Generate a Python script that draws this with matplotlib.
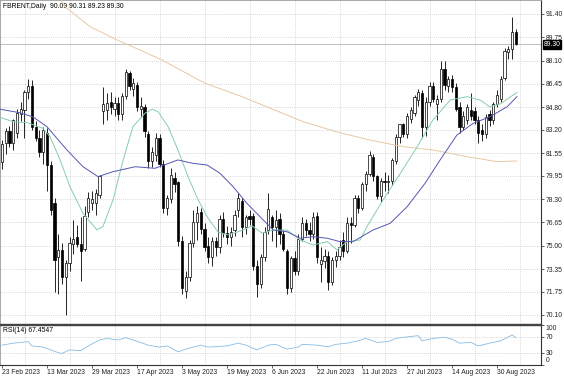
import matplotlib
matplotlib.use("Agg")
import matplotlib.pyplot as plt
import matplotlib.transforms as mtransforms

# ---------------------------------------------------------------------------
# Data (daily candles, oldest first)
# ---------------------------------------------------------------------------
opens = [
    80.9, 82.3, 83.1, 82.3, 83.0, 84.3, 84.6, 85.9, 86.3, 83.4,
    82.6, 81.6, 83.0, 80.7, 78.0, 74.2, 74.7, 72.8, 73.8, 75.1,
    75.6, 75.1, 74.8, 77.4, 78.0, 78.0, 78.6, 84.5, 84.6, 85.2,
    84.7, 85.1, 84.3, 85.6, 87.2, 86.1, 86.4, 84.7, 84.8, 82.9,
    81.0, 81.4, 82.6, 80.8, 77.7, 78.3, 79.8, 79.5, 75.3, 71.8,
    72.8, 75.2, 76.7, 77.4, 76.2, 75.0, 74.2, 75.3, 74.9, 76.9,
    75.9, 75.6, 76.1, 77.5, 78.2, 76.3, 77.1, 77.1, 73.6, 72.3,
    74.2, 76.1, 77.0, 76.3, 76.9, 75.8, 74.6, 72.0, 74.1, 73.2,
    75.5, 76.6, 76.1, 75.8, 77.1, 73.7, 73.9, 74.3, 72.4, 74.0,
    74.3, 75.4, 74.6, 76.6, 76.5, 78.4, 77.7, 79.4, 80.1, 81.3,
    79.9, 78.5, 79.6, 79.5, 79.6, 81.0, 82.7, 83.6, 82.9, 84.0,
    84.4, 85.3, 85.8, 83.4, 85.2, 86.3, 85.0, 85.4, 87.5, 86.3,
    86.8, 86.2, 84.8, 83.4, 83.9, 84.6, 84.5, 83.9, 83.2, 82.9,
    84.3, 83.9, 85.0, 85.4, 86.9, 88.7, 88.9, 90.09,
]
highs = [
    82.5, 83.3, 83.5, 84.0, 84.7, 85.2, 86.0, 86.8, 86.7, 83.8,
    83.2, 83.4, 83.3, 81.0, 78.4, 75.8, 75.2, 74.0, 75.6, 76.8,
    76.5, 77.0, 77.8, 78.8, 78.9, 79.0, 80.0, 86.2, 85.8, 85.9,
    85.5, 85.5, 85.8, 87.5, 87.4, 86.9, 86.6, 85.5, 85.0, 83.1,
    82.0, 83.0, 82.9, 81.1, 78.6, 80.5, 80.2, 79.6, 75.7, 73.2,
    75.4, 77.5, 77.8, 77.7, 76.6, 75.6, 75.6, 75.6, 77.2, 77.4,
    76.4, 76.3, 77.5, 78.7, 78.4, 77.2, 77.5, 77.3, 74.0, 74.4,
    76.3, 78.7, 77.2, 77.5, 77.3, 76.1, 74.8, 74.3, 74.6, 75.8,
    77.0, 76.9, 76.7, 77.4, 77.4, 74.9, 74.8, 74.6, 74.2, 74.6,
    75.4, 76.0, 77.0, 77.0, 78.6, 78.6, 79.5, 80.3, 81.7, 81.5,
    80.0, 79.8, 80.2, 80.0, 81.2, 82.9, 83.6, 83.7, 84.4, 84.8,
    85.7, 86.1, 86.0, 85.5, 86.6, 86.6, 85.7, 88.1, 88.1, 87.0,
    87.1, 86.5, 85.2, 84.5, 85.0, 85.8, 84.8, 84.2, 83.6, 84.3,
    84.6, 85.2, 86.0, 87.0, 89.0, 89.1, 91.2, 90.31,
]
lows = [
    80.4, 81.5, 82.0, 81.8, 82.6, 83.8, 82.6, 85.4, 83.2, 82.4,
    81.3, 80.8, 78.9, 77.2, 71.7, 71.6, 72.3, 70.1, 73.2, 74.4,
    74.9, 72.5, 74.6, 77.0, 77.5, 77.2, 78.4, 83.6, 83.9, 84.3,
    84.2, 83.9, 83.9, 85.4, 86.0, 85.6, 84.5, 84.1, 82.7, 80.5,
    80.6, 81.0, 80.6, 77.3, 77.2, 78.0, 78.8, 75.0, 71.6, 71.3,
    72.5, 74.9, 75.4, 75.8, 74.6, 73.8, 73.6, 74.3, 74.5, 75.6,
    75.1, 75.0, 75.7, 77.0, 75.6, 75.8, 76.5, 73.3, 71.4, 72.0,
    73.9, 75.8, 75.3, 74.9, 75.1, 74.6, 71.6, 71.7, 72.9, 72.9,
    75.3, 75.7, 75.3, 75.5, 73.8, 72.4, 73.4, 71.9, 72.2, 73.5,
    74.0, 74.2, 74.5, 75.2, 76.3, 77.3, 77.5, 78.9, 79.9, 79.6,
    78.3, 78.1, 78.9, 78.7, 79.3, 80.8, 82.3, 82.7, 82.6, 83.7,
    84.2, 84.9, 82.6, 82.8, 84.9, 85.2, 83.9, 85.2, 86.0, 85.9,
    85.9, 84.5, 83.0, 83.2, 83.6, 83.9, 83.6, 82.3, 82.4, 82.6,
    83.5, 83.6, 84.8, 85.2, 86.7, 88.2, 88.2, 89.23,
]
closes = [
    82.2, 83.1, 82.3, 83.9, 84.4, 84.7, 85.9, 86.3, 83.4, 82.6,
    81.6, 83.2, 80.7, 77.5, 74.0, 74.7, 72.8, 73.8, 75.2, 75.5,
    75.1, 74.6, 77.1, 78.4, 78.3, 78.7, 79.9, 85.0, 85.1, 84.8,
    85.1, 84.3, 85.6, 87.3, 86.3, 86.5, 84.8, 84.9, 83.1, 81.0,
    81.6, 82.6, 80.8, 77.7, 78.4, 80.0, 79.4, 75.3, 72.0, 72.8,
    75.2, 76.7, 77.3, 76.2, 74.9, 74.2, 75.3, 74.9, 76.9, 75.9,
    75.6, 76.0, 77.2, 78.4, 76.3, 77.0, 76.9, 73.6, 72.3, 74.2,
    76.0, 77.6, 76.3, 76.8, 75.8, 74.8, 72.0, 74.1, 73.2, 75.5,
    76.6, 76.1, 75.8, 77.0, 74.2, 74.0, 74.3, 72.4, 74.0, 74.3,
    74.9, 74.6, 76.6, 76.5, 78.4, 77.7, 79.4, 80.1, 81.4, 79.9,
    78.5, 79.6, 79.5, 79.6, 81.1, 82.7, 83.6, 82.9, 84.2, 84.6,
    85.5, 85.9, 83.4, 85.2, 86.3, 85.4, 85.4, 87.5, 86.4, 86.8,
    86.2, 84.7, 83.4, 84.2, 84.8, 84.2, 83.9, 83.0, 82.9, 84.1,
    83.9, 85.0, 85.7, 86.8, 88.8, 88.9, 90.1, 89.30,
]

# moving averages (bar position, price)
fast_ma_x = [-0.5, 2.9, 6.7, 10.9, 12.8, 15.5, 18.1, 21.6, 25.3, 26.9,
             29.6, 32.3, 34.9, 38.1, 40, 41.6, 44.3, 46.9, 49.6, 52.3,
             54.9, 57.6, 60.3, 63.5, 66.7, 69.3, 72.3, 76, 79.5, 82.9,
             86.7, 89.3, 92, 95.5, 97.3, 101.6, 106.1, 110.7, 114.9, 119.5,
             124, 127.5, 130.1, 132.8, 137.3]
fast_ma_y = [84.09, 83.78, 83.71, 83.31, 82.72, 81.07, 79.18, 77.30, 76.12, 76.35,
             78.24, 81.07, 83.42, 84.37, 84.66, 84.49, 83.42, 81.78, 79.89, 78.24,
             76.96, 75.97, 75.76, 76.04, 76.40, 75.90, 76.11, 76.11, 75.41, 75.05,
             75.29, 74.70, 75.29, 75.41, 76.35, 78.24, 80.08, 82.01, 83.90, 85.31,
             85.55, 85.31, 84.82, 85.03, 85.85]

mid_ma_x = [-0.5, 4.8, 8.3, 12, 17.3, 21.6, 25.6, 29.6, 35.5, 40.8,
            46.9, 50.9, 54.7, 58.1, 61.6, 65.3, 68.8, 72.3, 76, 79.5,
            82.9, 86.7, 90.1, 93.6, 98.9, 103.5, 108, 112.8, 116.8, 121.3,
            125.6, 130.1, 134.7, 137.3]
mid_ma_y = [84.66, 84.41, 84.11, 83.42, 81.78, 80.59, 79.89, 80.24, 80.59, 80.48,
            81.07, 80.83, 80.71, 80.13, 79.18, 78.00, 77.05, 76.11, 75.99, 75.53,
            75.64, 75.53, 75.29, 75.29, 76.11, 76.59, 77.76, 79.42, 81.07, 82.84,
            83.66, 84.13, 84.84, 85.55]

slow_ma_x = [14.1, 16.8, 23.5, 30.7, 36.8, 42.7, 54.1, 64, 71.5, 80.3,
             89.3, 98.1, 106.9, 114.9, 124, 132, 137.3]
slow_ma_y = [93.10, 91.92, 90.50, 89.56, 88.85, 88.14, 86.50, 85.55, 84.73, 83.78,
             83.05, 82.48, 82.01, 81.78, 81.30, 80.95, 81.00]

rsi_x = [0, 3, 7, 8, 11, 15, 16, 18, 21, 23, 26, 28, 31, 33, 35, 39, 42, 44,
         47, 49, 53, 55, 60, 63, 65, 68, 71, 73, 76, 79, 80, 84, 87, 89, 92,
         95, 97, 100, 103, 105, 108, 111, 112, 115, 118, 120, 122, 125, 127,
         130, 133, 135, 136, 137]
rsi_y = [49, 54, 58, 47, 44, 30, 28, 37, 35, 47, 62, 66, 62, 68, 62, 49, 44, 47,
         32, 39, 49, 44, 47, 54, 49, 37, 49, 51, 39, 44, 51, 49, 45, 51, 54,
         60, 66, 56, 58, 66, 70, 73, 60, 66, 69, 64, 54, 56, 47,
         54, 60, 70, 75, 67.5]

price_levels = [91.40, 89.75, 88.10, 86.45, 84.80, 83.20, 81.55, 79.95,
                78.30, 76.65, 75.00, 73.35, 71.75, 70.10]
date_labels = ["23 Feb 2023", "13 Mar 2023", "29 Mar 2023", "17 Apr 2023",
               "3 May 2023", "19 May 2023", "6 Jun 2023", "22 Jun 2023",
               "11 Jul 2023", "27 Jul 2023", "14 Aug 2023", "30 Aug 2023"]
last_price = 89.30
title = "FBRENT,Daily  90.09 90.31 89.23 89.30"
rsi_title = "RSI(14) 67.4547"

# ---------------------------------------------------------------------------
# Style
# ---------------------------------------------------------------------------
FONT = "Liberation Sans"
FS = 4.9
GRID = "#c4c4c4"
FAST = "#86cdb0"
MID = "#5656b4"
SLOW = "#e5c9a6"
RSI_C = "#86bde6"

plt.rcParams["font.family"] = [FONT, "DejaVu Sans"]

W, H = 564, 376
fig = plt.figure(figsize=(W / 100, H / 100), dpi=100)
fig.patch.set_facecolor("white")
ax = fig.add_axes([0, 1 - 324 / H, 541 / W, 324 / H])
rx = fig.add_axes([0, 1 - 364.5 / H, 541 / W, 39.5 / H])

n = len(closes)
xs = list(range(n))
xlim = (-0.53, 143.7)

# grid
for k in range(12):
    ax.axvline(6.13 + 12 * k, color=GRID, lw=0.5, ls=(0, (1.2, 1.6)), zorder=0)
    rx.axvline(6.13 + 12 * k, color=GRID, lw=0.5, ls=(0, (1.2, 1.6)), zorder=0)
for p in price_levels:
    ax.axhline(p, color=GRID, lw=0.5, ls=(0, (1.2, 1.6)), zorder=0)
ax.axhline(last_price, color="#b4b4b4", lw=0.6, zorder=1)

# candles
ax.vlines(xs, lows, highs, color="black", lw=0.6, zorder=2)
bottoms = [min(o, c) for o, c in zip(opens, closes)]
heights = [max(abs(c - o), 0.03) for o, c in zip(opens, closes)]
faces = ["white" if c >= o else "black" for o, c in zip(opens, closes)]
ax.bar(xs, heights, bottom=bottoms, width=0.6, color=faces,
       edgecolor="black", linewidth=0.5, zorder=3)

# moving averages
ax.plot(slow_ma_x, slow_ma_y, color=SLOW, lw=0.7, zorder=4)
ax.plot(fast_ma_x, fast_ma_y, color=FAST, lw=0.7, zorder=4)
ax.plot(mid_ma_x, mid_ma_y, color=MID, lw=0.7, zorder=4)

ax.set_xlim(*xlim)
ax.set_ylim(69.46, 92.39)
ax.yaxis.tick_right()
ax.set_yticks(price_levels)
ax.set_yticklabels([f"{p:.2f}" for p in price_levels])
ax.tick_params(axis="y", length=2, width=0.5, pad=1.5, labelsize=FS, colors="#222222")
ax.set_xticks([])

trans = mtransforms.blended_transform_factory(ax.transAxes, ax.transData)
ax.text(1.0 + 2.5 / 541, last_price - 0.05, f"{last_price:.2f}", transform=trans,
        ha="left", va="center", color="white", fontsize=FS,
        bbox=dict(facecolor="black", edgecolor="black", pad=0.5), zorder=6,
        clip_on=False)
ax.text(3 / 541, 1 - 6 / 324, title, transform=ax.transAxes, ha="left",
        va="center", fontsize=FS, color="black")

# RSI panel
rx.plot(rsi_x, rsi_y, color=RSI_C, lw=0.6, zorder=3)
for lvl in (30, 70):
    rx.axhline(lvl, color=GRID, lw=0.5, ls=(0, (1.2, 1.6)), zorder=0)
rx.set_xlim(*xlim)
rx.set_ylim(0, 100)
rx.yaxis.tick_right()
rx.set_yticks([0, 30, 70, 100])
rx.set_yticklabels(["0", "30", "70", "100"])
rx.tick_params(axis="y", length=2, width=0.5, pad=1.5, labelsize=FS, colors="#222222")
tl = rx.get_yticklabels()
tl[0].set_va("bottom")
tl[3].set_va("top")
rx.set_xticks([12 * k for k in range(len(date_labels))])
rx.set_xticklabels(date_labels, ha="left")
rx.tick_params(axis="x", length=2, width=0.5, pad=1.5, labelsize=FS, colors="#222222")
rx.text(3 / 541, 1 - 6 / 39.5, rsi_title, transform=rx.transAxes, ha="left",
        va="center", fontsize=FS, color="black")

# frame
for a in (ax, rx):
    a.set_facecolor("white")
    a.spines["left"].set_color("#9a9a9a")
    a.spines["left"].set_linewidth(0.6)
    a.spines["right"].set_color("#333333")
    a.spines["right"].set_linewidth(0.8)
ax.spines["top"].set_color("#9a9a9a")
ax.spines["top"].set_linewidth(0.6)
ax.spines["bottom"].set_color("#444444")
ax.spines["bottom"].set_linewidth(1.0)
rx.spines["top"].set_color("#444444")
rx.spines["top"].set_linewidth(1.0)
rx.spines["bottom"].set_color("#333333")
rx.spines["bottom"].set_linewidth(0.8)

fig.savefig("out.png", dpi=100, facecolor="white")
